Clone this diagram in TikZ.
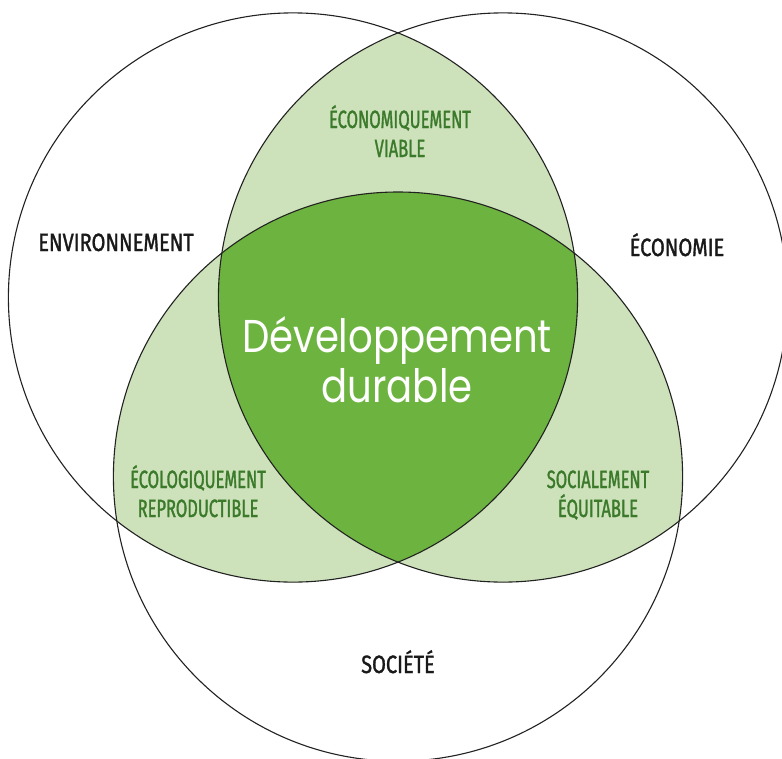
\documentclass[tikz,border=0pt]{standalone}
\usepackage{fontspec}
\newfontfamily\blackfont[FakeStretch=0.8,FakeBold=1.3]{Fira Sans}
\newfontfamily\greenfont[FakeStretch=0.66,FakeBold=1.3]{Fira Sans}
\newfontfamily\geofont[FakeStretch=0.84]{Poppins}
\definecolor{lightgreen}{HTML}{CDE2BA}
\definecolor{darkgreen}{HTML}{6DB33F}
\definecolor{textgreen}{HTML}{3B7A2B}
\definecolor{edge}{HTML}{222222}
\tikzset{
  circleline/.style={draw=edge, line width=1.1pt},
  biglabel/.style={anchor=base, font=\blackfont\fontsize{25}{25}\selectfont, text=black!90, inner sep=0pt},
  greenlabel/.style={anchor=base, font=\greenfont\fontsize{25}{25}\selectfont, text=textgreen, inner sep=0pt},
  centerlabel/.style={anchor=base, font=\geofont\fontsize{46}{46}\selectfont, text=white, inner sep=0pt},
}
\begin{document}
\begin{tikzpicture}[x=1pt,y=-1pt]
\useasboundingbox (0,0) rectangle (782,758);
\fill[white] (0,0) rectangle (782,758);
\coordinate (cenv) at (293,297.5);
\coordinate (ceco) at (503,297.5);
\coordinate (csoc) at (398,476.6);
\def\R{284.6pt}
% pairwise intersections
\begin{scope}
  \clip (cenv) circle[radius=\R];
  \fill[lightgreen] (ceco) circle[radius=\R];
  \fill[lightgreen] (csoc) circle[radius=\R];
\end{scope}
\begin{scope}
  \clip (ceco) circle[radius=\R];
  \fill[lightgreen] (csoc) circle[radius=\R];
\end{scope}
% triple intersection
\begin{scope}
  \clip (cenv) circle[radius=\R];
  \clip (ceco) circle[radius=\R];
  \fill[darkgreen] (csoc) circle[radius=\R];
\end{scope}
\draw[circleline] (cenv) circle[radius=\R];
\draw[circleline] (ceco) circle[radius=\R];
\draw[circleline] (csoc) circle[radius=\R];
% labels
\node[biglabel] (env) at (116,251) {ENVIRONNEMENT};
\node[biglabel] (eco) at (677,256) {ÉCONOMIE};
\node[biglabel] (soc) at (398,673) {SOCIÉTÉ};
\node[greenlabel] (ev1) at (400,128) {ÉCONOMIQUEMENT};
\node[greenlabel] (ev2) at (400,157) {VIABLE};
\node[greenlabel] (er1) at (198,488) {ÉCOLOGIQUEMENT};
\node[greenlabel] (er2) at (198,517) {REPRODUCTIBLE};
\node[greenlabel] (se1) at (598,488) {SOCIALEMENT};
\node[greenlabel] (se2) at (598,517) {ÉQUITABLE};
\node[centerlabel] (dd1) at (397,352) {Développement};
\node[centerlabel] (dd2) at (397,402) {durable};
\end{tikzpicture}
\end{document}
